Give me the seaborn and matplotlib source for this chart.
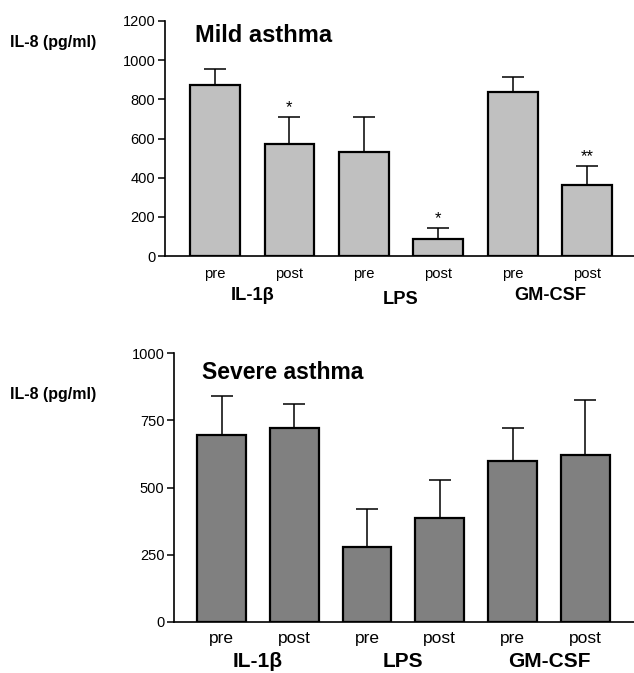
import matplotlib
matplotlib.use("Agg")
import matplotlib.pyplot as plt
from matplotlib import font_manager
import seaborn as sns
import numpy as np
import pandas as pd

conditions = ["IL-1β pre", "IL-1β post", "LPS pre", "LPS post", "GM-CSF pre", "GM-CSF post"]
tick_labels = ["pre", "post", "pre", "post", "pre", "post"]
groups = ["IL-1β", "LPS", "GM-CSF"]

mild_mean = [873, 573, 532, 87, 839, 362]
mild_err = [80, 135, 178, 54, 73, 96]
mild_stars = ["", "*", "", "*", "", "**"]

severe_mean = [696, 723, 278, 388, 599, 621]
severe_err = [144, 87, 141, 141, 123, 206]

sns.set_theme(style="ticks")
plt.rcParams['font.family'] = ['Liberation Sans', 'DejaVu Sans']
plt.rcParams['text.color'] = 'black'
plt.rcParams['xtick.color'] = 'black'
plt.rcParams['ytick.color'] = 'black'
plt.rcParams['axes.labelcolor'] = 'black'

names = {f.name for f in font_manager.fontManager.ttflist}
has_narrow = 'Liberation Sans Narrow' in names
narrow = ['Liberation Sans Narrow', 'Liberation Sans', 'DejaVu Sans'] if has_narrow else ['Liberation Sans', 'DejaVu Sans']
nscale = 1.0 if has_narrow else 0.85
regular = ['Liberation Sans', 'DejaVu Sans']

fig = plt.figure(figsize=(6.34, 6.73), dpi=100)
W, H = 634, 673

def make_axes(left, bottom, top):
    return fig.add_axes([left / W, 1 - bottom / H, 1 - left / W, (bottom - top) / H])

ax1 = make_axes(165, 256, 21)
ax2 = make_axes(174, 621.7, 353.3)

def draw(ax, mean, err, color, ymax, yticks, xlim, title, title_x, title_y, title_size,
         fam, tick_size, tick_pad, group_size, group_y, stars=None):
    df = pd.DataFrame({"cond": conditions, "val": mean})
    sns.barplot(data=df, x="cond", y="val", color=color, edgecolor="black",
                linewidth=1.6, width=0.67, errorbar=None, ax=ax, saturation=1)
    x = np.arange(len(mean))
    ax.errorbar(x, mean, yerr=[np.zeros(len(err)), err], fmt="none",
                ecolor="black", elinewidth=1.1, capsize=8, capthick=1.1, zorder=1)
    ax.set_ylim(0, ymax)
    ax.set_yticks(yticks)
    ax.set_xlim(*xlim)
    ax.set_xticks(x)
    ax.set_xticklabels(tick_labels, fontsize=tick_size, family=fam)
    for lbl in ax.get_xticklabels():
        lbl.set_va("baseline")
    ax.tick_params(axis="x", length=0, pad=tick_pad)
    ax.tick_params(axis="y", length=5, width=1.1, labelsize=10.5, pad=2, color="black")
    ax.set_xlabel("")
    ax.set_ylabel("")
    for s in ["top", "right"]:
        ax.spines[s].set_visible(False)
    for s in ["left", "bottom"]:
        ax.spines[s].set_linewidth(1.2)
        ax.spines[s].set_color("black")
    ax.text(title_x, title_y, title, transform=ax.transAxes,
            fontsize=title_size, fontweight="bold", va="baseline", ha="left")
    if stars:
        for i, s in enumerate(stars):
            if s:
                ax.text(i, mean[i] + err[i] + ymax * 0.01, s, ha="center", va="bottom",
                        fontsize=12)
    gx = [0.5, 2.5, 4.5]
    for g, xx, yy in zip(groups, gx, group_y):
        ax.text(xx, yy, g, transform=ax.get_xaxis_transform(), ha="center",
                va="baseline", fontsize=group_size, fontweight="bold", family=fam)

draw(ax1, mild_mean, mild_err, "#c0c0c0", 1200, [0, 200, 400, 600, 800, 1000, 1200],
     (-0.672, 5.63), "Mild asthma", 0.064, 0.91, 17,
     narrow, 12.5 * nscale, 16, 15.5 * nscale, [-0.187, -0.204, -0.187], mild_stars)
draw(ax2, severe_mean, severe_err, "#808080", 1000, [0, 250, 500, 750, 1000],
     (-0.653, 5.67), "Severe asthma", 0.061, 0.905, 16.5,
     regular, 12.5, 15.5, 15, [-0.167, -0.167, -0.167], None)

fig.text(10 / W, 1 - 43 / H, "IL-8 (pg/ml)", fontsize=11.5, fontweight="bold",
         ha="left", va="center")
fig.text(10 / W, 1 - 394 / H, "IL-8 (pg/ml)", fontsize=11.5, fontweight="bold",
         ha="left", va="center")

fig.savefig("out.png", dpi=100)
